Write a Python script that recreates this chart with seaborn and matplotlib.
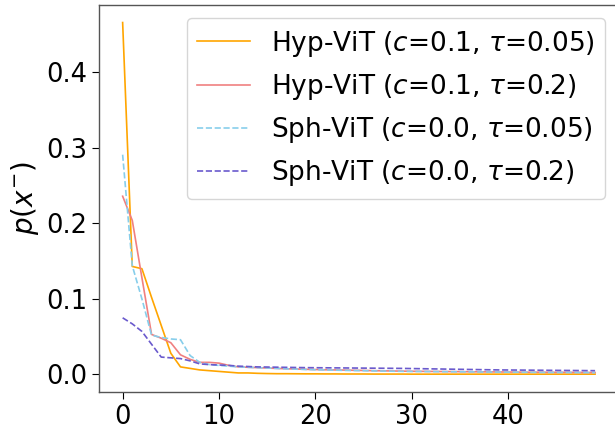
import numpy as np
import pandas as pd
import matplotlib
matplotlib.use('Agg')
import matplotlib.pyplot as plt
import seaborn as sns

# values, x = 0..49
steps = list(range(50))

hyp_c01_t005 = [0.466, 0.143, 0.140, 0.102, 0.065, 0.028, 0.010, 0.008, 0.006, 0.005,
                0.004, 0.003, 0.002, 0.002, 0.0015, 0.0012, 0.0010, 0.0010, 0.0009, 0.0008,
                0.0008, 0.0007, 0.0007, 0.0006, 0.0006, 0.0006, 0.0005, 0.0005, 0.0005, 0.0005,
                0.0004, 0.0004, 0.0004, 0.0004, 0.0004, 0.0004, 0.0004, 0.0004, 0.0004, 0.0004,
                0.0004, 0.0004, 0.0004, 0.0004, 0.0004, 0.0004, 0.0004, 0.0004, 0.0004, 0.0004]

hyp_c01_t02 = [0.236, 0.204, 0.128, 0.053, 0.048, 0.042, 0.026, 0.020, 0.016, 0.016,
               0.015, 0.012, 0.010, 0.0095, 0.009, 0.0085, 0.008, 0.0075, 0.0072, 0.0068,
               0.0065, 0.0062, 0.006, 0.0058, 0.0055, 0.0053, 0.005, 0.0048, 0.0046, 0.0044,
               0.0042, 0.0041, 0.004, 0.0039, 0.0038, 0.0037, 0.0036, 0.0035, 0.0034, 0.0033,
               0.0032, 0.0031, 0.003, 0.003, 0.0029, 0.0028, 0.0028, 0.0027, 0.0026, 0.0025]

sph_c00_t005 = [0.291, 0.144, 0.100, 0.052, 0.049, 0.047, 0.046, 0.025, 0.016, 0.013,
                0.012, 0.011, 0.010, 0.0095, 0.009, 0.0085, 0.008, 0.0075, 0.007, 0.0066,
                0.0062, 0.006, 0.0057, 0.0054, 0.0052, 0.005, 0.0047, 0.0045, 0.0043, 0.0041,
                0.004, 0.0039, 0.0038, 0.0037, 0.0036, 0.0035, 0.0034, 0.0033, 0.0032, 0.0031,
                0.003, 0.003, 0.0029, 0.0028, 0.0027, 0.0027, 0.0026, 0.0025, 0.0025, 0.0024]

sph_c00_t02 = [0.075, 0.067, 0.057, 0.040, 0.023, 0.022, 0.021, 0.018, 0.014, 0.013,
               0.0125, 0.012, 0.011, 0.0105, 0.010, 0.0098, 0.0096, 0.0094, 0.0092, 0.009,
               0.0089, 0.0088, 0.0087, 0.0086, 0.0085, 0.0084, 0.0083, 0.0082, 0.0081, 0.008,
               0.0078, 0.0076, 0.0074, 0.0072, 0.007, 0.0068, 0.0066, 0.0064, 0.0062, 0.006,
               0.0059, 0.0058, 0.0057, 0.0056, 0.0055, 0.0054, 0.0053, 0.0052, 0.0051, 0.005]

labels = [r'Hyp-ViT ($c$=0.1, $\tau$=0.05)',
          r'Hyp-ViT ($c$=0.1, $\tau$=0.2)',
          r'Sph-ViT ($c$=0.0, $\tau$=0.05)',
          r'Sph-ViT ($c$=0.0, $\tau$=0.2)']
series = [hyp_c01_t005, hyp_c01_t02, sph_c00_t005, sph_c00_t02]
colors = ['orange', 'lightcoral', 'skyblue', 'slateblue']
styles = ['-', '-', '--', '--']

plt.rcParams['font.size'] = 19
fig = plt.figure(figsize=(6.15, 4.3), dpi=100)
ax = fig.add_axes([0.161, 0.089, 0.845, 0.8995])

for vals, lab, col, ls in zip(series, labels, colors, styles):
    df = pd.DataFrame({'x': steps, 'p': vals})
    sns.lineplot(data=df, x='x', y='p', ax=ax, color=col, linestyle=ls,
                 linewidth=1.2, label=lab)

ax.set_xlabel('')
ax.set_ylabel(r'$p(x^{-})$', fontsize=20)
ax.set_xticks([0, 10, 20, 30, 40])
ax.set_yticks([0.0, 0.1, 0.2, 0.3, 0.4])
ax.tick_params(labelsize=18.5, length=5)
for s in ax.spines.values():
    s.set_color('#555555')
    s.set_linewidth(1.0)
ax.legend(loc='upper right', fontsize=19)

fig.savefig('out.png', dpi=100)
